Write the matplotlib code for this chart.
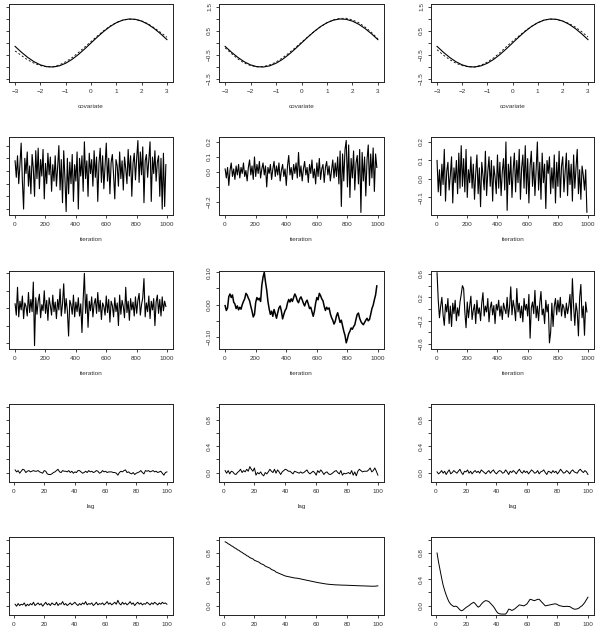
import numpy as np
import matplotlib.pyplot as plt

plt.rcParams['font.family'] = ['Liberation Sans', 'DejaVu Sans']
plt.rcParams['font.size'] = 4.6

# ---- row 1: fitted curves against covariate ----
covariate = [-3.0, -2.75, -2.5, -2.25, -2.0, -1.75, -1.5, -1.25, -1.0, -0.75, -0.5, -0.25,
             0.0, 0.25, 0.5, 0.75, 1.0, 1.25, 1.5, 1.75, 2.0, 2.25, 2.5, 2.75, 3.0]
true_curve = [-0.141, -0.382, -0.598, -0.778, -0.909, -0.984, -0.997, -0.949, -0.841, -0.682,
              -0.479, -0.247, 0.0, 0.247, 0.479, 0.682, 0.841, 0.949, 0.997, 0.984, 0.909,
              0.778, 0.598, 0.382, 0.141]
est_curve_1 = [-0.33, -0.52, -0.70, -0.84, -0.94, -0.99, -0.98, -0.91, -0.78, -0.61, -0.40, -0.17,
               0.06, 0.29, 0.51, 0.70, 0.85, 0.95, 0.99, 0.98, 0.92, 0.80, 0.63, 0.44, 0.24]
est_curve_2 = [-0.20, -0.44, -0.66, -0.83, -0.94, -0.99, -0.98, -0.91, -0.79, -0.62, -0.42, -0.20,
               0.03, 0.26, 0.48, 0.68, 0.84, 0.96, 1.02, 1.03, 0.96, 0.84, 0.66, 0.44, 0.17]
est_curve_3 = [-0.28, -0.50, -0.69, -0.84, -0.94, -0.99, -0.99, -0.92, -0.79, -0.62, -0.40, -0.16,
               0.07, 0.29, 0.50, 0.69, 0.84, 0.95, 0.99, 0.98, 0.91, 0.81, 0.66, 0.47, 0.25]

# ---- rows 2-3: traces (every 8th iteration) ----
trace_a = [0.08, -0.05, 0.12, -0.10, 0.05, 0.22, -0.08, -0.30, 0.10, -0.02, 0.15, -0.12, 0.04,
           -0.18, 0.13, 0.02, -0.20, 0.16, -0.06, 0.18, -0.14, 0.09, -0.04, 0.17, -0.22,
           0.06, -0.10, 0.14, -0.03, 0.11, -0.16, 0.05, -0.08, 0.12, -0.12, 0.03, 0.20, -0.15,
           0.09, -0.25, 0.16, -0.06, -0.32, 0.10, -0.18, 0.07, -0.10, 0.13, -0.24, 0.05,
           -0.08, 0.15, -0.30, 0.10, -0.04, 0.12, -0.16, 0.23, -0.06, 0.08, -0.20, 0.14, -0.02,
           0.09, -0.12, 0.16, -0.05, 0.11, -0.24, 0.06, 0.18, -0.09, 0.12, -0.14, 0.04,
           0.22, -0.08, 0.10, -0.18, 0.07, 0.13, -0.03, -0.22, 0.09, 0.04, -0.12, 0.15, -0.06,
           0.08, -0.15, 0.11, 0.02, -0.10, 0.17, -0.04, 0.12, -0.20, 0.06, 0.14, -0.07,
           0.10, 0.24, -0.09, 0.15, -0.03, 0.19, -0.25, 0.08, 0.13, -0.05, 0.09, 0.23, -0.24,
           0.11, -0.02, 0.16, -0.08, 0.07, 0.12, -0.20, 0.10, -0.30, 0.14, -0.28, 0.05]
trace_b = [0.02, -0.04, 0.03, -0.09, 0.01, 0.06, -0.03, 0.02, -0.05, 0.04, -0.02, 0.05, -0.04,
           0.03, -0.01, 0.06, -0.03, 0.01, -0.06, 0.03, 0.08, -0.02, 0.04, -0.05, 0.10,
           -0.03, 0.05, -0.01, 0.07, -0.04, 0.02, 0.06, -0.02, 0.04, -0.10, 0.03, -0.01, 0.05,
           -0.05, 0.02, 0.07, -0.03, 0.04, -0.02, 0.06, -0.06, 0.01, 0.05, -0.03, 0.02,
           -0.09, 0.04, 0.11, -0.02, 0.03, -0.05, 0.05, -0.01, 0.06, -0.04, 0.13, -0.03, 0.04,
           -0.06, 0.02, 0.07, -0.02, 0.03, -0.07, 0.05, -0.01, 0.08, -0.04, 0.02, -0.08,
           0.06, -0.03, 0.09, -0.05, 0.02, 0.05, -0.07, 0.03, 0.07, -0.02, 0.04, -0.06, 0.01,
           0.08, -0.04, 0.06, -0.03, 0.10, -0.08, 0.14, -0.23, 0.12, -0.06, 0.15, 0.21,
           -0.10, 0.18, -0.17, 0.09, -0.04, 0.14, -0.12, 0.06, 0.11, -0.08, 0.15, -0.27, 0.13,
           -0.06, 0.10, -0.16, 0.08, 0.18, -0.09, 0.12, -0.04, 0.16, -0.13, 0.12, 0.03]
trace_c = [0.10, -0.07, 0.05, -0.09, 0.08, -0.03, 0.16, -0.12, 0.04, 0.09, -0.06, 0.02, 0.12,
           -0.13, 0.06, -0.02, 0.10, -0.08, 0.14, -0.05, 0.18, -0.04, 0.11, -0.07, 0.16,
           -0.10, 0.05, -0.02, 0.12, -0.05, 0.08, -0.11, 0.03, 0.13, -0.08, 0.06, -0.15, 0.09,
           0.02, -0.06, 0.15, -0.09, 0.04, 0.12, -0.04, 0.10, -0.12, 0.07, 0.01, -0.08,
           0.13, -0.05, 0.09, -0.09, 0.04, 0.11, -0.06, 0.20, -0.17, 0.08, -0.03, 0.12, -0.10,
           0.05, 0.14, -0.07, 0.10, -0.02, 0.16, -0.11, 0.06, 0.13, -0.05, 0.18, -0.08,
           0.11, -0.13, 0.07, 0.15, -0.04, 0.09, -0.09, 0.05, 0.20, -0.06, 0.09, -0.11, 0.14,
           -0.02, 0.08, -0.16, 0.10, 0.03, 0.12, -0.08, 0.06, -0.05, 0.13, -0.13, 0.09,
           -0.04, 0.15, -0.10, 0.07, 0.12, -0.07, 0.04, 0.14, -0.09, 0.10, -0.03, 0.08, -0.12,
           0.13, -0.05, 0.06, 0.16, -0.08, 0.05, -0.11, 0.07, 0.02, -0.06, 0.05, -0.18]
trace_d = [0.05, -0.08, 0.24, -0.10, 0.08, -0.02, 0.14, -0.12, 0.06, 0.02, -0.09, 0.18, -0.05,
           0.10, -0.04, 0.30, -0.43, 0.12, -0.07, 0.08, 0.16, -0.11, 0.04, -0.03, 0.20,
           -0.06, 0.09, -0.14, 0.12, 0.03, -0.08, 0.15, -0.04, 0.07, -0.12, 0.10, -0.02, 0.22,
           -0.09, 0.05, 0.28, -0.06, 0.11, -0.03, -0.32, 0.09, 0.04, -0.07, 0.15, -0.10,
           0.07, -0.04, 0.12, -0.09, 0.05, -0.28, 0.10, 0.40, -0.06, 0.16, -0.22, 0.08, -0.03,
           0.13, -0.10, 0.05, 0.11, -0.06, 0.18, -0.04, 0.09, -0.13, 0.06, 0.02, -0.08,
           0.14, -0.05, 0.10, -0.16, 0.08, 0.03, -0.10, 0.12, -0.04, 0.06, -0.20, 0.15, -0.07,
           0.09, 0.02, -0.11, 0.24, -0.05, 0.08, -0.14, 0.11, -0.02, 0.07, -0.09, 0.13,
           -0.06, 0.09, 0.17, -0.08, 0.04, 0.12, 0.34, -0.10, 0.06, -0.04, 0.14, -0.12, 0.08,
           -0.02, 0.11, -0.20, 0.07, 0.15, -0.06, 0.10, -0.09, 0.13, -0.03, 0.08, 0.02]
trace_e = [-0.003, -0.018, -0.010, 0.025, 0.033, 0.022, 0.030, 0.008, 0.002, -0.012, -0.004,
           -0.016, -0.008, -0.014, 0.000, 0.010, 0.018, 0.035, 0.030, 0.020, 0.012, -0.005,
           -0.020, -0.038, -0.030, 0.007, 0.022, 0.015, 0.020, 0.010, 0.060, 0.085, 0.100,
           0.070, 0.045, 0.010, -0.013, -0.030, -0.020, -0.036, -0.015, -0.028, -0.042,
           -0.025, -0.010, -0.004, -0.020, -0.044, -0.030, -0.018, -0.012, 0.005, 0.016,
           0.008, 0.018, 0.010, 0.022, 0.033, 0.025, 0.012, 0.006, 0.018, 0.024, 0.015,
           0.004, -0.004, 0.008, 0.014, 0.002, -0.012, -0.008, -0.022, -0.036, -0.020, 0.005,
           0.022, 0.015, 0.035, 0.028, 0.018, 0.012, -0.005, -0.018, -0.008, -0.014, -0.010,
           -0.028, -0.040, -0.048, -0.060, -0.052, -0.035, -0.025, -0.040, -0.055, -0.048,
           -0.065, -0.082, -0.095, -0.118, -0.105, -0.090, -0.082, -0.072, -0.076, -0.068,
           -0.062, -0.045, -0.030, -0.026, -0.042, -0.052, -0.058, -0.062, -0.055, -0.048,
           -0.042, -0.050, -0.046, -0.030, -0.012, -0.002, 0.015, 0.030, 0.058]
trace_f = [0.62, 0.15, -0.15, 0.05, 0.20, -0.10, -0.28, 0.08, -0.05, 0.18, -0.25, 0.05, -0.30,
           0.10, -0.08, 0.15, -0.20, 0.02, -0.12, 0.12, 0.25, 0.40, 0.35, -0.05, -0.32,
           0.12, -0.15, 0.05, 0.22, -0.18, -0.02, 0.08, -0.25, 0.15, -0.08, 0.02, -0.20, 0.10,
           0.28, -0.12, 0.05, -0.05, 0.18, -0.22, 0.02, 0.12, -0.10, 0.06, -0.25, 0.08,
           -0.02, 0.15, -0.12, 0.05, -0.18, 0.10, 0.00, -0.08, 0.20, -0.14, 0.04, 0.38, -0.10,
           0.15, 0.02, -0.20, 0.35, -0.05, 0.10, -0.15, 0.05, -0.22, 0.18, -0.02, 0.08,
           -0.12, 0.25, -0.50, 0.02, 0.12, -0.08, 0.32, -0.15, 0.05, -0.20, 0.10, 0.30, -0.10,
           0.00, -0.25, 0.15, -0.05, 0.08, -0.58, -0.40, 0.10, -0.30, 0.05, 0.18, -0.10,
           0.15, -0.05, 0.20, -0.12, 0.08, 0.02, -0.15, 0.10, -0.08, 0.05, 0.25, -0.20, 0.52,
           0.05, -0.28, 0.10, -0.05, -0.46, 0.20, 0.42, -0.15, 0.05, -0.45, 0.12, -0.05]

# ---- rows 4-5: autocorrelations, lags 1..100 ----
acf_a = [0.04, 0.01, 0.03, -0.01, 0.02, 0.05, 0.04, 0.00, 0.02, 0.03, 0.01, 0.02, 0.03, 0.02,
         0.02, 0.03, 0.01, 0.00, -0.01, 0.03, 0.02, -0.02, -0.03, -0.03, -0.02, 0.00, 0.01,
         0.03, 0.05, 0.01, 0.00, 0.03, 0.02, 0.02, 0.01, 0.03, 0.00, 0.02, -0.01, 0.01, 0.00,
         0.03, 0.03, 0.01, -0.01, 0.00, 0.02, 0.00, 0.03, 0.01, 0.02, 0.00, 0.01, 0.03, 0.02,
         -0.01, 0.00, 0.03, 0.01, 0.02, 0.00, 0.01, 0.01, 0.01, 0.00, 0.00, -0.01, -0.04,
         0.00, 0.02, 0.01, 0.03, 0.04, 0.00, 0.01, -0.01, -0.02, 0.00, -0.03, -0.01, 0.00,
         0.01, 0.03, 0.00, -0.02, 0.03, 0.02, 0.03, 0.01, 0.02, 0.03, 0.01, 0.02, 0.00, 0.01,
         0.02, -0.01, -0.04, 0.00, 0.01]
acf_b = [0.03, -0.01, 0.03, -0.02, 0.02, 0.01, -0.02, -0.03, 0.00, 0.02, 0.05, 0.00, 0.03,
         0.01, 0.05, 0.02, 0.09, 0.05, 0.02, 0.07, -0.04, 0.00, -0.02, 0.01, -0.03, -0.05,
         0.00, -0.02, 0.01, 0.05, 0.02, 0.00, 0.05, -0.01, 0.04, 0.01, -0.03, 0.01, 0.03,
         0.05, 0.04, 0.02, 0.02, 0.00, -0.02, 0.02, 0.01, 0.00, -0.01, 0.01, -0.01, 0.00,
         0.02, 0.04, 0.00, -0.02, 0.00, 0.02, 0.00, -0.04, 0.03, 0.00, 0.04, 0.01, -0.03,
         0.00, 0.01, -0.02, -0.03, -0.02, 0.00, 0.02, 0.03, 0.00, -0.02, 0.03, -0.04, -0.01,
         -0.02, -0.01, 0.00, -0.02, 0.03, -0.04, 0.01, -0.05, 0.02, 0.05, 0.03, 0.01, 0.02,
         0.02, 0.02, 0.04, 0.07, 0.01, 0.03, 0.07, 0.02, -0.04]
acf_c = [0.01, -0.02, 0.00, 0.03, -0.01, 0.02, -0.03, 0.01, 0.04, -0.02, 0.00, 0.03, 0.01,
         -0.01, 0.02, 0.05, 0.00, -0.03, 0.02, 0.01, 0.04, -0.01, 0.02, -0.02, 0.01, 0.03,
         0.00, 0.02, -0.01, 0.04, 0.02, 0.00, -0.02, 0.01, 0.03, -0.01, 0.02, 0.04, 0.00,
         -0.02, 0.01, 0.03, 0.02, -0.01, 0.00, 0.04, 0.01, -0.03, 0.02, 0.00, 0.03, 0.01,
         -0.02, 0.02, 0.05, 0.01, -0.01, 0.03, 0.00, 0.02, -0.02, 0.01, 0.04, 0.02, -0.01,
         0.00, 0.03, -0.02, 0.01, 0.02, 0.04, 0.00, -0.03, 0.02, 0.01, -0.01, 0.03, 0.00,
         0.02, -0.02, 0.01, 0.05, 0.02, -0.01, 0.00, 0.03, 0.01, -0.02, 0.02, 0.04, 0.01,
         0.00, -0.01, 0.03, 0.05, 0.02, 0.00, 0.03, 0.01, -0.03]
acf_d = [0.02, -0.01, 0.03, 0.00, 0.02, 0.01, 0.04, -0.01, 0.02, 0.00, 0.03, 0.01, 0.05, 0.00,
         0.02, 0.04, 0.01, 0.03, -0.01, 0.02, 0.05, 0.01, 0.03, 0.00, 0.04, 0.02, 0.01, 0.05,
         0.00, 0.03, 0.02, 0.06, 0.01, 0.03, 0.00, 0.02, 0.04, 0.01, 0.03, 0.05, 0.02, 0.00,
         0.03, 0.01, 0.04, 0.02, 0.06, 0.01, 0.03, 0.02, 0.04, 0.00, 0.02, 0.05, 0.01, 0.03,
         0.02, 0.04, 0.01, 0.03, 0.06, 0.02, 0.04, 0.01, 0.03, 0.05, 0.02, 0.08, 0.03, 0.01,
         0.05, 0.02, 0.04, 0.01, 0.03, 0.06, 0.02, 0.04, 0.00, 0.03, 0.05, 0.02, 0.04, 0.01,
         0.03, 0.02, 0.05, 0.03, 0.01, 0.04, 0.02, 0.05, 0.03, 0.01, 0.04, 0.02, 0.05, 0.03,
         0.04, 0.02]
acf_e = [0.97, 0.96, 0.94, 0.93, 0.91, 0.90, 0.88, 0.87, 0.85, 0.84,
         0.82, 0.81, 0.79, 0.78, 0.76, 0.75, 0.73, 0.72, 0.71, 0.69,
         0.68, 0.67, 0.66, 0.64, 0.63, 0.62, 0.60, 0.59, 0.58, 0.57,
         0.55, 0.54, 0.53, 0.51, 0.50, 0.49, 0.48, 0.47, 0.46, 0.45,
         0.445, 0.44, 0.435, 0.43, 0.425, 0.42, 0.418, 0.415, 0.41, 0.405,
         0.40, 0.395, 0.39, 0.385, 0.38, 0.375, 0.37, 0.365, 0.36, 0.355,
         0.35, 0.346, 0.342, 0.338, 0.334, 0.33, 0.327, 0.324, 0.322, 0.32,
         0.318, 0.316, 0.315, 0.314, 0.313, 0.312, 0.311, 0.31, 0.31, 0.309,
         0.308, 0.307, 0.306, 0.305, 0.304, 0.303, 0.302, 0.301, 0.30, 0.30,
         0.299, 0.298, 0.297, 0.296, 0.295, 0.295, 0.294, 0.295, 0.297, 0.30]
acf_f = [0.80, 0.66, 0.54, 0.42, 0.31, 0.23, 0.16, 0.10, 0.05, 0.02,
         0.00, -0.015, -0.01, -0.015, -0.04, -0.065, -0.08, -0.07, -0.05, -0.03,
         -0.015, 0.00, 0.02, 0.035, 0.05, 0.03, 0.00, -0.025, -0.01, 0.02,
         0.045, 0.065, 0.075, 0.07, 0.06, 0.035, 0.01, -0.015, -0.05, -0.09,
         -0.115, -0.125, -0.13, -0.13, -0.13, -0.13, -0.10, -0.055, -0.06, -0.075,
         -0.065, -0.05, -0.03, -0.01, 0.01, 0.005, 0.00, -0.005, 0.01, 0.025,
         0.06, 0.095, 0.09, 0.08, 0.075, 0.085, 0.095, 0.095, 0.07, 0.045,
         0.02, -0.005, 0.00, 0.005, 0.01, 0.015, 0.02, 0.025, 0.025, 0.015,
         0.00, -0.005, -0.01, -0.015, -0.015, -0.01, -0.015, -0.015, -0.03, -0.045,
         -0.055, -0.055, -0.05, -0.04, -0.02, -0.005, 0.02, 0.05, 0.09, 0.127]

M = '\u2212'
acf_ticks = [0.0, 0.2, 0.4, 0.6, 0.8, 1.0]
acf_labels = ['0.0', '', '0.4', '', '0.8', '']
iter_ticks = [0, 200, 400, 600, 800, 1000]
lag_ticks = [0, 20, 40, 60, 80, 100]
cov_ticks = [-3, -2, -1, 0, 1, 2, 3]

W, H = 598.0, 628.0
lefts = [9, 219, 431]
widths = [164, 165, 163]
tops = [4, 137, 271, 404, 537]
ph = 78

fig = plt.figure(figsize=(W / 100, H / 100), dpi=100)


def panel(r, c, ylim, yticks, ylabels):
    ax = fig.add_axes([lefts[c] / W, 1 - (tops[r] + ph) / H, widths[c] / W, ph / H])
    for s in ax.spines.values():
        s.set_linewidth(0.7)
        s.set_color('#222222')
    ax.tick_params(length=2.4, width=0.6, pad=2.5, colors='#222222', labelcolor='#333333')
    ax.set_ylim(ylim)
    ax.set_yticks(yticks)
    # left column's labels fall outside the picture (cropped in the reference)
    if c == 0:
        ax.set_yticklabels([])
    else:
        ax.set_yticklabels(ylabels, rotation=90, va='center')
    return ax


def finish_x(ax, r, xlim, ticks, label):
    ax.set_xlim(xlim)
    ax.set_xticks(ticks)
    ax.set_xticklabels([str(t).replace('-', M) for t in ticks])
    if r < 4:
        ax.set_xlabel(label, color='#333333')
        ax.xaxis.set_label_coords(0.5, -22 / ph)


# row 1
cov_yt = [-1.5, -1.0, -0.5, 0.0, 0.5, 1.0, 1.5]
cov_yl = [M + '1.5', '', M + '0.5', '', '0.5', '', '1.5']
for c, est in enumerate([est_curve_1, est_curve_2, est_curve_3]):
    ax = panel(0, c, (-1.62, 1.62), cov_yt, cov_yl)
    ax.plot(covariate, true_curve, color='black', lw=0.8)
    ax.plot(covariate, est, color='black', lw=0.6, linestyle=(0, (2.5, 2.5)))
    finish_x(ax, 0, (-3.24, 3.24), cov_ticks, 'covariate')

# rows 2-3
trace_specs = [
    (1, 0, trace_a, (-0.347, 0.268), [-0.3, -0.2, -0.1, 0.0, 0.1, 0.2],
     [M + '0.3', M + '0.2', M + '0.1', '0.0', '0.1', '0.2']),
    (1, 1, trace_b, (-0.287, 0.233), [-0.2, -0.1, 0.0, 0.1, 0.2],
     [M + '0.2', '', '0.0', '0.1', '0.2']),
    (1, 2, trace_c, (-0.195, 0.227), [-0.1, 0.0, 0.1, 0.2],
     [M + '0.1', '0.0', '0.1', '0.2']),
    (2, 0, trace_d, (-0.469, 0.427), [-0.4, -0.2, 0.0, 0.2, 0.4],
     [M + '0.4', '', '0.0', '', '0.4']),
    (2, 1, trace_e, (-0.137, 0.104), [-0.10, -0.05, 0.0, 0.05, 0.10],
     [M + '0.10', '', '0.00', '', '0.10']),
    (2, 2, trace_f, (-0.685, 0.651), [-0.6, -0.4, -0.2, 0.0, 0.2, 0.4, 0.6],
     [M + '0.6', '', M + '0.2', '', '0.2', '', '0.6']),
]
for r, c, vals, ylim, yt, yl in trace_specs:
    ax = panel(r, c, ylim, yt, yl)
    iteration = 1 + 8 * np.arange(len(vals))
    lw = 1.1 if vals is trace_e else 0.8
    ax.plot(iteration, vals, color='black', lw=lw)
    finish_x(ax, r, (-39, 1040), iter_ticks, 'iteration')

# rows 4-5
acf_specs = [(3, 0, acf_a), (3, 1, acf_b), (3, 2, acf_c),
             (4, 0, acf_d), (4, 1, acf_e), (4, 2, acf_f)]
for r, c, vals in acf_specs:
    ax = panel(r, c, (-0.144, 1.044), acf_ticks, acf_labels)
    lag = np.arange(1, len(vals) + 1)
    ax.plot(lag, vals, color='black', lw=0.7)
    finish_x(ax, r, (-2.96, 103.96), lag_ticks, 'lag')

fig.savefig('out.png', dpi=100)
